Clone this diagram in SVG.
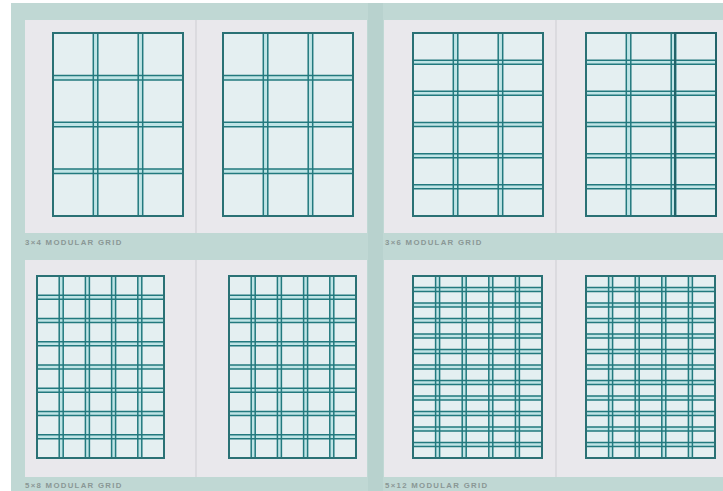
<svg xmlns="http://www.w3.org/2000/svg" xmlns:xlink="http://www.w3.org/1999/xlink" width="723" height="491" viewBox="0 0 723 491">
<style>
.page{fill:#e9e8ec}
.fold{stroke:#cdcdd2;stroke-width:1}
.box{fill:#e4eff1;stroke:#2a7175;stroke-width:2}
.gut{fill:#bfe4e6}
.ln{stroke:#22797e;stroke-width:1.5;fill:none}
.lbl{font-family:"Liberation Sans",Arial,sans-serif;font-size:7.8px;font-weight:bold;letter-spacing:1.3px;fill:#8a9795}
.hl{fill:none;stroke:#22646a;stroke-width:2}
</style>
<defs>
<g id="gA">
<rect class="box" x="0" y="0" width="130" height="183"/>
<rect class="gut" x="40.3" y="0" width="4.5" height="183"/>
<rect class="gut" x="85.2" y="0" width="4.5" height="183"/>
<rect class="gut" x="0" y="42.4" width="130" height="4.5"/>
<rect class="gut" x="0" y="89.2" width="130" height="4.5"/>
<rect class="gut" x="0" y="136.1" width="130" height="4.5"/>
<path class="ln" d="M40.3 0V183M44.8 0V183M85.2 0V183M89.7 0V183M0 42.4H130M0 46.9H130M0 89.2H130M0 93.7H130M0 136.1H130M0 140.6H130"/>
<rect x="0" y="0" width="130" height="183" fill="none" stroke="#2a7175" stroke-width="2"/>
</g>
<g id="gB">
<rect class="box" x="0" y="0" width="130" height="183"/>
<rect class="gut" x="40.3" y="0" width="4.5" height="183"/>
<rect class="gut" x="85.2" y="0" width="4.5" height="183"/>
<rect class="gut" x="0" y="27.2" width="130" height="4"/>
<rect class="gut" x="0" y="58.3" width="130" height="4"/>
<rect class="gut" x="0" y="89.5" width="130" height="4"/>
<rect class="gut" x="0" y="120.7" width="130" height="4"/>
<rect class="gut" x="0" y="151.8" width="130" height="4"/>
<path class="ln" d="M40.3 0V183M44.8 0V183M85.2 0V183M89.7 0V183M0 27.2H130M0 31.2H130M0 58.3H130M0 62.3H130M0 89.5H130M0 93.5H130M0 120.7H130M0 124.7H130M0 151.8H130M0 155.8H130"/>
<rect x="0" y="0" width="130" height="183" fill="none" stroke="#2a7175" stroke-width="2"/>
</g>
<g id="gC">
<rect class="box" x="0" y="0" width="127" height="182"/>
<rect class="gut" x="22.2" y="0" width="4" height="182"/>
<rect class="gut" x="48.4" y="0" width="4" height="182"/>
<rect class="gut" x="74.6" y="0" width="4" height="182"/>
<rect class="gut" x="100.8" y="0" width="4" height="182"/>
<rect class="gut" x="0" y="19.25" width="127" height="4"/>
<rect class="gut" x="0" y="42.5" width="127" height="4"/>
<rect class="gut" x="0" y="65.75" width="127" height="4"/>
<rect class="gut" x="0" y="89" width="127" height="4"/>
<rect class="gut" x="0" y="112.25" width="127" height="4"/>
<rect class="gut" x="0" y="135.5" width="127" height="4"/>
<rect class="gut" x="0" y="158.75" width="127" height="4"/>
<path class="ln" d="M22.2 0V182M26.2 0V182M48.4 0V182M52.4 0V182M74.6 0V182M78.6 0V182M100.8 0V182M104.8 0V182M0 19.25H127M0 23.25H127M0 42.5H127M0 46.5H127M0 65.75H127M0 69.75H127M0 89H127M0 93H127M0 112.25H127M0 116.25H127M0 135.5H127M0 139.5H127M0 158.75H127M0 162.75H127"/>
<rect x="0" y="0" width="127" height="182" fill="none" stroke="#2a7175" stroke-width="2"/>
</g>
<g id="gD">
<rect class="box" x="0" y="0" width="129" height="182"/>
<rect class="gut" x="22.6" y="0" width="4" height="182"/>
<rect class="gut" x="49.2" y="0" width="4" height="182"/>
<rect class="gut" x="75.8" y="0" width="4" height="182"/>
<rect class="gut" x="102.4" y="0" width="4" height="182"/>
<rect class="gut" x="0" y="11.5" width="129" height="4"/>
<rect class="gut" x="0" y="27" width="129" height="4"/>
<rect class="gut" x="0" y="42.5" width="129" height="4"/>
<rect class="gut" x="0" y="58" width="129" height="4"/>
<rect class="gut" x="0" y="73.5" width="129" height="4"/>
<rect class="gut" x="0" y="89" width="129" height="4"/>
<rect class="gut" x="0" y="104.5" width="129" height="4"/>
<rect class="gut" x="0" y="120" width="129" height="4"/>
<rect class="gut" x="0" y="135.5" width="129" height="4"/>
<rect class="gut" x="0" y="151" width="129" height="4"/>
<rect class="gut" x="0" y="166.5" width="129" height="4"/>
<path class="ln" d="M22.6 0V182M26.6 0V182M49.2 0V182M53.2 0V182M75.8 0V182M79.8 0V182M102.4 0V182M106.4 0V182M0 11.5H129M0 15.5H129M0 27H129M0 31H129M0 42.5H129M0 46.5H129M0 58H129M0 62H129M0 73.5H129M0 77.5H129M0 89H129M0 93H129M0 104.5H129M0 108.5H129M0 120H129M0 124H129M0 135.5H129M0 139.5H129M0 151H129M0 155H129M0 166.5H129M0 170.5H129"/>
<rect x="0" y="0" width="129" height="182" fill="none" stroke="#2a7175" stroke-width="2"/>
</g>
</defs>
<rect x="0" y="0" width="723" height="491" fill="#ffffff"/>
<rect x="11" y="3" width="712" height="488" fill="#c0d8d4"/>
<rect x="368" y="3" width="15" height="488" fill="#b8d2ce"/>

<g id="grid-3x4">
<rect class="page" x="25" y="20" width="342" height="213"/>
<line class="fold" x1="196" y1="20" x2="196" y2="233"/>
<use xlink:href="#gA" transform="translate(53,33)"/>
<use xlink:href="#gA" transform="translate(223,33)"/>
<text class="lbl" x="25" y="245">3×4 MODULAR GRID</text>
</g>

<g id="grid-3x6">
<rect class="page" x="384" y="20" width="339" height="213"/>
<line class="fold" x1="556" y1="20" x2="556" y2="233"/>
<use xlink:href="#gB" transform="translate(413,33)"/>
<use xlink:href="#gB" transform="translate(586,33)"/>
<rect class="hl" x="675" y="33" width="41" height="183"/>
<text class="lbl" x="385" y="245">3×6 MODULAR GRID</text>
</g>

<g id="grid-5x8">
<rect class="page" x="25" y="260" width="342" height="217"/>
<line class="fold" x1="196" y1="260" x2="196" y2="477"/>
<use xlink:href="#gC" transform="translate(37,276)"/>
<use xlink:href="#gC" transform="translate(229,276)"/>
<text class="lbl" x="25" y="488">5×8 MODULAR GRID</text>
</g>

<g id="grid-5x12">
<rect class="page" x="384" y="260" width="339" height="217"/>
<line class="fold" x1="556" y1="260" x2="556" y2="477"/>
<use xlink:href="#gD" transform="translate(413,276)"/>
<use xlink:href="#gD" transform="translate(586,276)"/>
<text class="lbl" x="385" y="488">5×12 MODULAR GRID</text>
</g>
</svg>
